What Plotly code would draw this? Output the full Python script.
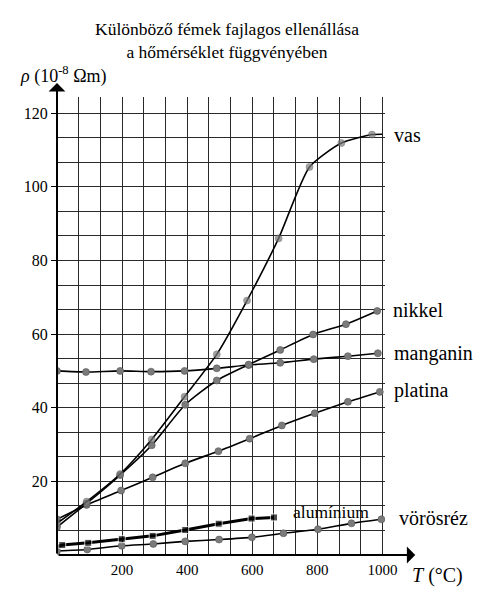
import plotly.graph_objects as go

# values (T in °C, rho in 1e-8 ohm*m)
vas_t = [0, 91, 194, 291, 392, 491, 584, 681, 776, 874, 968, 1000]
vas_rho = [8.6, 14.5, 22.0, 31.4, 43.0, 54.5, 69.1, 86.0, 105.4, 111.9, 114.2, 114.3]

nikkel_t = [0, 91, 194, 291, 394, 491, 589, 686, 787, 888, 984]
nikkel_rho = [7.6, 14.0, 21.7, 29.8, 40.8, 47.4, 51.7, 55.7, 59.9, 62.7, 66.3]

manganin_t = [0, 89, 194, 289, 392, 491, 589, 686, 789, 894, 986]
manganin_rho = [50.0, 49.7, 50.0, 49.8, 50.0, 50.7, 51.6, 52.2, 53.2, 54.0, 54.8]

platina_t = [0, 91, 197, 294, 394, 496, 592, 691, 792, 894, 992]
platina_rho = [9.7, 13.6, 17.5, 21.1, 24.9, 28.2, 31.6, 35.2, 38.5, 41.6, 44.3]

voros_t = [0, 93, 199, 296, 394, 498, 599, 696, 802, 905, 997]
voros_rho = [1.1, 1.5, 2.5, 3.0, 3.7, 4.2, 4.8, 5.9, 7.0, 8.6, 9.7]

alu_t = [0, 16, 96, 199, 294, 394, 497, 598, 667]
alu_rho = [2.3, 2.7, 3.3, 4.3, 5.2, 6.8, 8.5, 9.9, 10.2]

x_labels = [200, 400, 600, 800, 1000]
y_labels = [20, 40, 60, 80, 100, 120]

SERIF = "Liberation Serif, DejaVu Serif, Times New Roman, serif"
DOT = "#7b7b7b"
GRID = "#2a2a2a"
X_MAX = 1008
Y_MAX = 124.4

fig = go.Figure()


def add_curve(t, rho, sizes=None):
    fig.add_trace(go.Scatter(
        x=t, y=rho, mode="lines+markers",
        line=dict(color="black", width=1.6, shape="spline", smoothing=0.6),
        marker=dict(color=DOT, size=sizes if sizes else 7,
                    line=dict(color="#555555", width=0.6)),
        showlegend=False, hoverinfo="skip",
    ))


add_curve(voros_t, voros_rho)
add_curve(platina_t, platina_rho)
add_curve(manganin_t, manganin_rho)
add_curve(nikkel_t, nikkel_rho)
# last vas point is only where the drawn line stops, no dot there
add_curve(vas_t, vas_rho, [7] * (len(vas_t) - 1) + [0])

# aluminium: thicker line with black squares, line starts at the axis
fig.add_trace(go.Scatter(
    x=alu_t, y=alu_rho, mode="lines+markers",
    line=dict(color="black", width=3),
    marker=dict(symbol="square", color="black", size=[0] + [7] * (len(alu_t) - 1)),
    showlegend=False, hoverinfo="skip",
))

# grid: 15 columns over 1000 °C, 18 rows over 120
x_grid = [k * 1000 / 15 for k in range(1, 16)]
y_grid = [k * 20 / 3 for k in range(1, 19)]

fig.update_xaxes(
    range=[0, X_MAX], tickmode="array", tickvals=x_labels,
    ticktext=[str(v) for v in x_labels],
    showgrid=True, gridcolor=GRID, gridwidth=1,
    minor=dict(tickmode="array", tickvals=x_grid, showgrid=True,
               gridcolor=GRID, gridwidth=1, ticks=""),
    zeroline=False, showline=False, ticks="", ticklabelstandoff=4,
    tickfont=dict(family=SERIF, size=15, color="black"),
)
fig.update_yaxes(
    range=[0, Y_MAX], tickmode="array", tickvals=y_labels,
    ticktext=[str(v) for v in y_labels],
    showgrid=True, gridcolor=GRID, gridwidth=1,
    minor=dict(tickmode="array", tickvals=y_grid, showgrid=True,
               gridcolor=GRID, gridwidth=1, ticks=""),
    zeroline=False, showline=False,
    ticks="outside", ticklen=5, tickwidth=1, tickcolor="black",
    tickfont=dict(family=SERIF, size=16, color="black"),
)

# axes drawn as arrows
fig.add_annotation(x=0, y=128.2, ax=0, ay=0, axref="x", ayref="y", xref="x", yref="y",
                   text="", showarrow=True, arrowhead=1, arrowsize=1.4, arrowwidth=2,
                   arrowcolor="black", standoff=0)
fig.add_annotation(x=1101, y=0, ax=0, ay=0, axref="x", ayref="y", xref="x", yref="y",
                   text="", showarrow=True, arrowhead=1, arrowsize=1.4, arrowwidth=2,
                   arrowcolor="black", standoff=0)

label_font = dict(family=SERIF, size=20, color="black")
for txt, x, y in [("vas", 1031, 114.0), ("nikkel", 1025, 66.5),
                  ("manganin", 1030, 54.8), ("platina", 1030, 44.6),
                  ("vörösréz", 1046, 10.0)]:
    fig.add_annotation(x=x / X_MAX, y=y / Y_MAX, xref="paper", yref="paper", text=txt,
                       showarrow=False, xanchor="left", yanchor="middle", font=label_font)
fig.add_annotation(x=720, y=11.6, xref="x", yref="y", text="alumínium", showarrow=False,
                   xanchor="left", yanchor="middle", font=dict(family=SERIF, size=17.5, color="black"))

fig.add_annotation(x=1086 / X_MAX, y=-5.7 / Y_MAX, xref="paper", yref="paper",
                   text="<i>T</i> (°C)", showarrow=False, xanchor="left", yanchor="middle",
                   font=dict(family=SERIF, size=20, color="black"))
fig.add_annotation(x=-0.119, y=1.048, xref="paper", yref="paper",
                   text="<i>ρ</i> (10<sup>-8</sup> Ωm)", showarrow=False,
                   xanchor="left", yanchor="middle", font=dict(family=SERIF, size=18, color="black"))

# the page body has an 8px margin, so the figure is made 8px smaller
fig.update_layout(
    width=483, height=591,
    margin=dict(l=49, r=106, t=89, b=44),
    paper_bgcolor="white", plot_bgcolor="white",
    title=dict(text="Különböző fémek fajlagos ellenállása<br>a hőmérséklet függvényében",
               x=0.4534, xref="container", xanchor="center",
               y=0.9536, yref="container", yanchor="middle",
               font=dict(family=SERIF, size=17.5, color="black")),
)

fig.write_html("out.html")
